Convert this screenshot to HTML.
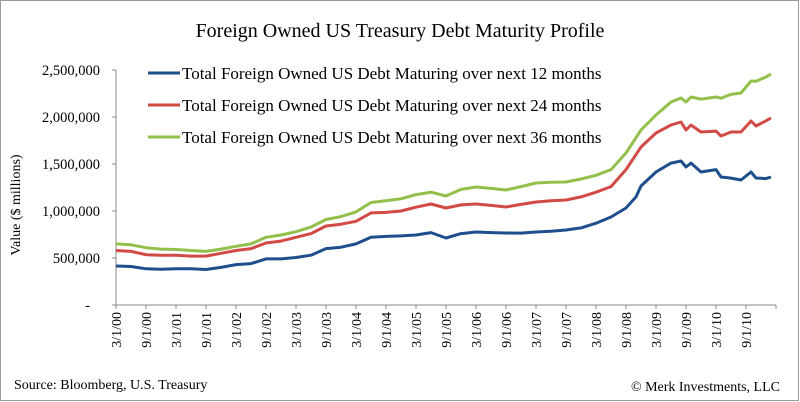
<!DOCTYPE html>
<html><head><meta charset="utf-8"><style>
html,body{margin:0;padding:0;background:#fff}
svg{display:block;font-family:"Liberation Serif",serif}
</style></head><body>
<svg id="chart" width="800" height="402" viewBox="0 0 800 402">
<rect x="0.5" y="0.5" width="798" height="400" fill="#fff" stroke="#999"/>
<text x="400" y="37" text-anchor="middle" font-size="20" fill="#000">Foreign Owned US Treasury Debt Maturity Profile</text>
<text transform="translate(20,205) rotate(-90)" text-anchor="middle" font-size="14">Value ($ millions)</text>
<text x="14" y="389" font-size="14">Source: Bloomberg, U.S. Treasury</text>
<text x="780" y="391" text-anchor="end" font-size="14">© Merk Investments, LLC</text>
<g id="axes"></g><g id="series"></g><g id="legend"></g>
</svg>
<script>
const months=[0,3,6,9,12,15,18,21,24,27,30,33,36,39,42,45,48,51,54,57,60,63,66,69,72,75,78,81,84,87,90,93,96,99,102,104,105,108,111,113,114,115,117,120,121,123,125,127,128,130,131];
const series12=[415,410,385,380,385,385,378,400,430,440,490,490,505,530,600,615,650,720,730,735,745,770,713,760,777,770,766,765,777,785,798,820,870,936,1032,1150,1266,1415,1510,1532,1468,1510,1415,1440,1362,1350,1330,1415,1351,1345,1362];
const series24=[580,570,535,530,530,520,520,550,580,600,660,680,720,760,840,860,890,980,985,1000,1040,1074,1032,1065,1074,1060,1043,1070,1096,1110,1117,1150,1200,1260,1440,1600,1681,1830,1915,1947,1862,1915,1840,1850,1798,1840,1840,1957,1904,1960,1989];
const series36=[650,640,610,595,590,580,570,595,625,650,720,745,780,830,910,940,990,1090,1110,1130,1175,1200,1160,1230,1255,1240,1223,1260,1298,1305,1309,1340,1380,1440,1617,1780,1862,2021,2160,2202,2160,2213,2190,2213,2200,2240,2255,2383,2380,2426,2457];
const yTicks=[0,500000,1000000,1500000,2000000,2500000];
const yTickLabels=["-","500,000","1,000,000","1,500,000","2,000,000","2,500,000"];
const xTickMonths=[0,6,12,18,24,30,36,42,48,54,60,66,72,78,84,90,96,102,108,114,120,126];
const xTickLabels=["3/1/00","9/1/00","3/1/01","9/1/01","3/1/02","9/1/02","3/1/03","9/1/03","3/1/04","9/1/04","3/1/05","9/1/05","3/1/06","9/1/06","3/1/07","9/1/07","3/1/08","9/1/08","3/1/09","9/1/09","3/1/10","9/1/10"];
const seriesNames=["Total Foreign Owned US Debt Maturing over next 12 months","Total Foreign Owned US Debt Maturing over next 24 months","Total Foreign Owned US Debt Maturing over next 36 months"];
const NS="http://www.w3.org/2000/svg";
const X0=116,Y0=305,YTOP=70,PX_PER_MONTH=5;
function xs(m){return X0+m*PX_PER_MONTH;}
function ys(v){return Y0-(v/2500000)*(Y0-YTOP);}
function mk(t,a,p){const e=document.createElementNS(NS,t);for(const k in a)e.setAttribute(k,a[k]);p.appendChild(e);return e;}
const axes=document.getElementById('axes');
let el=mk('line',{x1:X0,y1:YTOP,x2:X0,y2:Y0,stroke:'#888','stroke-width':1},axes);


el=mk('line',{x1:X0,y1:Y0,x2:776,y2:Y0,stroke:'#888','stroke-width':1},axes);


yTicks.forEach((v,i)=>{
  const y=ys(v);
  const t=mk('line',{x1:X0-4,y1:y,x2:X0,y2:y,stroke:'#888'},axes);
  
  
  const l=mk('text',{x:i===0?90:100,y:y+5,'text-anchor':'end','font-size':14.5},axes);
  l.textContent=yTickLabels[i];
  
  
});
xTickMonths.forEach((m,i)=>{
  const x=xs(m);
  const t=mk('line',{x1:x,y1:Y0,x2:x,y2:Y0+4,stroke:'#888'},axes);
  
  
  const l=mk('text',{transform:`translate(${x+5},${312}) rotate(-90)`,'text-anchor':'end','font-size':14},axes);
  l.textContent=xTickLabels[i];
  
  
});
const endT=mk('line',{x1:776,y1:Y0,x2:776,y2:Y0+4,stroke:'#888'},axes);


const colors=['#1f4e8c','#d24a45','#93c04b'];
const data=[series12,series24,series36];
const sg=document.getElementById('series');
data.forEach((vals,si)=>{
  const pts=vals.map((v,i)=>xs(months[i]).toFixed(1)+','+ys(v*1000).toFixed(1)).join(' ');
  const p=mk('polyline',{points:pts,fill:'none',stroke:colors[si],'stroke-width':3,'stroke-linejoin':'round'},sg);
  
  
});
const lg=document.getElementById('legend');
[73,105,137].forEach((y,i)=>{
  const g=mk('g',{},lg);
  
  
  mk('line',{x1:148,y1:y,x2:180,y2:y,stroke:colors[i],'stroke-width':3},g);
  const t=mk('text',{x:182,y:y+6,'font-size':17},g);
  t.textContent=seriesNames[i];
});
</script>
</body></html>
